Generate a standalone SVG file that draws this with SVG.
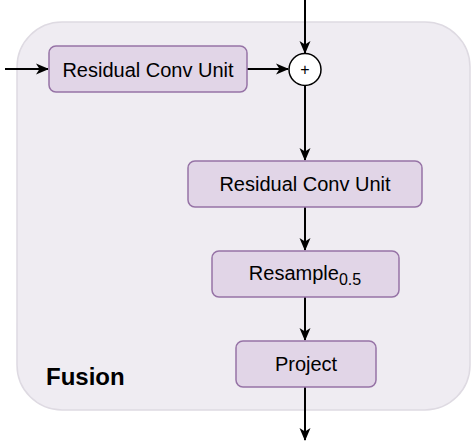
<svg xmlns="http://www.w3.org/2000/svg" width="476" height="446" viewBox="0 0 476 446">
  <style>
    .node rect { fill: #E1D5E7; stroke: #9673A6; stroke-width: 1.5; }
    .lbl { font-family: "Liberation Sans", Arial, sans-serif; font-size: 20px; fill: #000; text-anchor: middle; }
    .edge { stroke: #000; stroke-width: 2; fill: none; marker-end: url(#arr); }
  </style>
  <defs>
    <marker id="arr" markerUnits="userSpaceOnUse" markerWidth="13" markerHeight="12" viewBox="0 0 13 12" refX="12" refY="6" orient="auto">
      <path d="M0,0.5 L13,6 L0,11.5 L3.5,6 Z" fill="#000"/>
    </marker>
  </defs>
  <g id="fusion">
    <rect x="17" y="22" width="453" height="388" rx="45" ry="45" fill="#EFECF2" stroke="#DEDAE2" stroke-width="1.5"/>
    <text x="46" y="385" font-family="Liberation Sans, Arial, sans-serif" font-size="24" font-weight="bold" fill="#000">Fusion</text>
  </g>
  <g id="edges">
    <line class="edge" x1="305" y1="0" x2="305" y2="53"/>
    <line class="edge" x1="5" y1="69" x2="48" y2="69"/>
    <line class="edge" x1="247" y1="69" x2="288" y2="69"/>
    <line class="edge" x1="305" y1="86" x2="305" y2="160"/>
    <line class="edge" x1="305" y1="207" x2="305" y2="250"/>
    <line class="edge" x1="305" y1="297" x2="305" y2="340"/>
    <line class="edge" x1="305" y1="387" x2="305" y2="440"/>
  </g>
  <g id="rcu1" class="node">
    <rect x="49" y="46" width="198" height="46" rx="7"/>
    <text class="lbl" x="148" y="76.5">Residual Conv Unit</text>
  </g>
  <g id="sum">
    <circle cx="305" cy="69.5" r="16" fill="#fff" stroke="#000" stroke-width="1.5"/>
    <text x="305" y="75" font-family="Liberation Sans, Arial, sans-serif" font-size="16" text-anchor="middle" fill="#000">+</text>
  </g>
  <g id="rcu2" class="node">
    <rect x="188" y="161" width="234" height="46" rx="7"/>
    <text class="lbl" x="305" y="191">Residual Conv Unit</text>
  </g>
  <g id="resample" class="node">
    <rect x="212" y="251" width="187" height="46" rx="7"/>
    <text class="lbl" x="305" y="280">Resample<tspan font-size="16" dy="5">0.5</tspan></text>
  </g>
  <g id="project" class="node">
    <rect x="236" y="341" width="140" height="46" rx="7"/>
    <text class="lbl" x="306" y="370.5">Project</text>
  </g>
</svg>
